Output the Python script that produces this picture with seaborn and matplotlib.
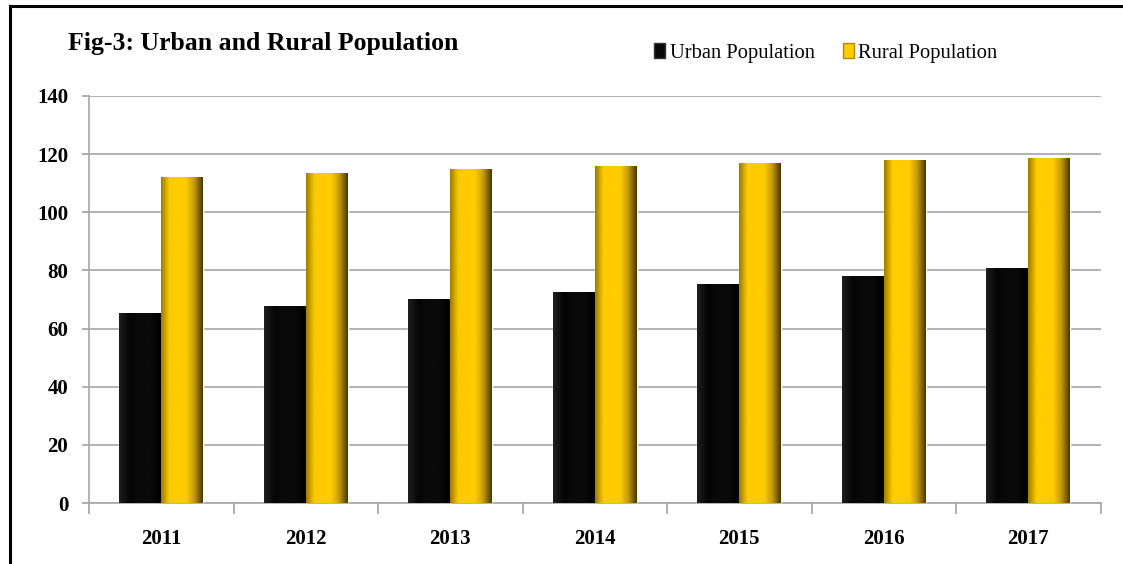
import matplotlib
matplotlib.use("Agg")
import matplotlib.pyplot as plt
import seaborn as sns
import numpy as np
import pandas as pd
from matplotlib.colors import LinearSegmentedColormap
from matplotlib.patches import Rectangle, Patch

years = ["2011", "2012", "2013", "2014", "2015", "2016", "2017"]
urban = [65.3, 67.8, 70.2, 72.6, 75.3, 78.1, 80.8]
rural = [112.1, 113.4, 114.9, 115.9, 116.8, 117.9, 118.7]
series = ["Urban Population", "Rural Population"]
colors = ["#0a0a0a", "#FFCC00"]

df = pd.DataFrame({
    "Year": years * 2,
    "Population": urban + rural,
    "Series": [series[0]] * len(years) + [series[1]] * len(years),
})

sns.set_theme(style="white")
plt.rcParams["font.family"] = ["Liberation Serif", "DejaVu Serif"]
plt.rcParams["text.color"] = "black"
plt.rcParams["xtick.color"] = "black"
plt.rcParams["ytick.color"] = "black"
plt.rcParams["xtick.labelcolor"] = "black"
plt.rcParams["ytick.labelcolor"] = "black"

fig = plt.figure(figsize=(11.23, 5.64), dpi=100)
ax = fig.add_axes([0.0793, 0.108, 0.9007, 0.722])

sns.barplot(data=df, x="Year", y="Population", hue="Series", order=years,
            hue_order=series, palette=colors, width=0.58, gap=0,
            saturation=1, ax=ax, legend=True, zorder=3)

ax.set_ylim(0, 140)
ax.set_xlim(-0.5, len(years) - 0.5)
ax.set_yticks(range(0, 141, 20))

# bevel-like shading on each bar
cm_gold = LinearSegmentedColormap.from_list(
    "g", ["#a07c00", "#FFCC00", "#FFCC00", "#FFCC00", "#c49a00", "#4a3800"])
cm_blk = LinearSegmentedColormap.from_list(
    "b", ["#1e1e1e", "#050505", "#0a0a0a", "#0a0a0a", "#000000"])
grad = np.linspace(0, 1, 64).reshape(1, -1)
for i, p in enumerate(list(ax.patches)[:2 * len(years)]):
    x0, y0 = p.get_x(), p.get_y()
    w, h = p.get_width(), p.get_height()
    if h <= 0:
        continue
    cmap = cm_blk if i < len(years) else cm_gold
    im = ax.imshow(grad, cmap=cmap, extent=[x0, x0 + w, y0, y0 + h],
                   aspect="auto", zorder=4, interpolation="bicubic")
    im.set_clip_path(p)
ax.set_ylim(0, 140)
ax.set_xlim(-0.5, len(years) - 0.5)
ax.set_aspect("auto")

ax.grid(axis="y", color="#a6a6a6", linewidth=1.2, zorder=0)
ax.grid(axis="x", visible=False)
ax.set_axisbelow(True)
for s in ["top", "right"]:
    ax.spines[s].set_visible(False)
for s in ["left", "bottom"]:
    ax.spines[s].set_color("#a6a6a6")
    ax.spines[s].set_linewidth(1.2)

ax.set_xlabel("")
ax.set_ylabel("")
ax.tick_params(axis="y", which="major", left=True, length=5, color="#a6a6a6",
               labelsize=15, pad=10, labelcolor="black")
ax.set_xticks(np.arange(-0.5, len(years), 1.0), minor=False)
ax.set_xticklabels([""] * (len(years) + 1))
ax.set_xticks(np.arange(len(years)), minor=True)
ax.set_xticklabels(years, minor=True)
ax.tick_params(axis="x", which="major", bottom=True, length=8, color="#a6a6a6")
ax.tick_params(axis="x", which="minor", bottom=False, labelsize=15, pad=15,
               labelcolor="black")
for lab in ax.get_yticklabels() + ax.get_xticklabels(minor=True):
    lab.set_fontweight("bold")

leg = ax.get_legend()
if leg is not None:
    leg.remove()
handles = [Patch(facecolor=colors[0], edgecolor="#333333"),
           Patch(facecolor=colors[1], edgecolor="#b08a00")]
fig.legend(handles, series, loc="center left", bbox_to_anchor=(0.566, 0.906),
           ncol=2, frameon=False, fontsize=14.8, handlelength=0.55,
           handleheight=0.7, handletextpad=0.2, columnspacing=1.38,
           labelcolor="black")

fig.text(0.0605, 0.922, "Fig-3: Urban and Rural Population", fontsize=18.5,
         fontweight="bold", ha="left", va="center", color="black")

fig.patches.append(Rectangle((0.009, -0.01), 1.1, 1.0, transform=fig.transFigure,
                             fill=False, edgecolor="black", linewidth=2.2))

fig.savefig("out.png", dpi=100)
